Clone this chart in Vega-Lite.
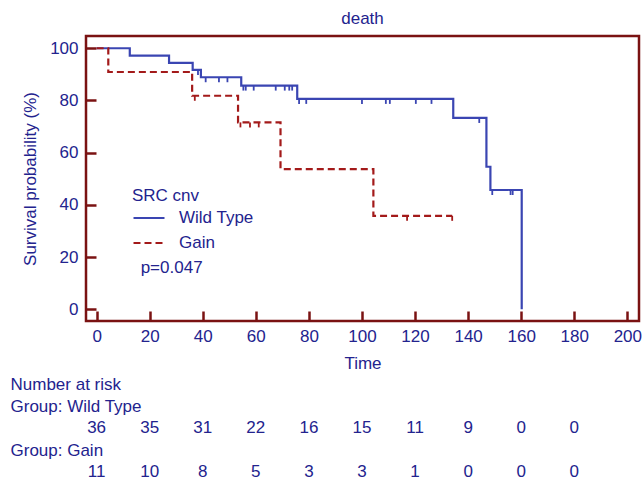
{
  "$schema": "https://vega.github.io/schema/vega-lite/v6.json",
  "padding": {"left": 10, "top": 8, "right": 2, "bottom": 0},
  "bounds": "flush",
  "spacing": 52,
  "config": {
    "font": "Liberation Sans",
    "view": {"stroke": "#7A1212", "strokeWidth": 2.5},
    "axis": {"grid": false, "domain": false, "labelFont": "Liberation Sans", "titleFont": "Liberation Sans", "labelFontSize": 17, "titleFontSize": 17, "labelColor": "#23238E", "titleColor": "#23238E", "titleFontWeight": "normal", "tickColor": "#7A1212", "tickWidth": 2.5}
  },
  "datasets": {
    "km": [
      {"group": "Wild Type", "time": 0, "surv": 100, "censored": 0},
      {"group": "Wild Type", "time": 12.5, "surv": 97.2, "censored": 0},
      {"group": "Wild Type", "time": 27.3, "surv": 94.4, "censored": 0},
      {"group": "Wild Type", "time": 36.2, "surv": 91.7, "censored": 0},
      {"group": "Wild Type", "time": 38.2, "surv": 91.7, "censored": 1},
      {"group": "Wild Type", "time": 39.3, "surv": 88.9, "censored": 0},
      {"group": "Wild Type", "time": 41.1, "surv": 88.9, "censored": 1},
      {"group": "Wild Type", "time": 46.1, "surv": 88.9, "censored": 1},
      {"group": "Wild Type", "time": 49.3, "surv": 88.9, "censored": 1},
      {"group": "Wild Type", "time": 54.5, "surv": 85.7, "censored": 0},
      {"group": "Wild Type", "time": 55.3, "surv": 85.7, "censored": 1},
      {"group": "Wild Type", "time": 56.2, "surv": 85.7, "censored": 1},
      {"group": "Wild Type", "time": 59.2, "surv": 85.7, "censored": 1},
      {"group": "Wild Type", "time": 67.5, "surv": 85.7, "censored": 1},
      {"group": "Wild Type", "time": 70.9, "surv": 85.7, "censored": 1},
      {"group": "Wild Type", "time": 72.6, "surv": 85.7, "censored": 1},
      {"group": "Wild Type", "time": 73.7, "surv": 85.7, "censored": 1},
      {"group": "Wild Type", "time": 75.6, "surv": 80.6, "censored": 0},
      {"group": "Wild Type", "time": 76.3, "surv": 80.6, "censored": 1},
      {"group": "Wild Type", "time": 79.0, "surv": 80.6, "censored": 1},
      {"group": "Wild Type", "time": 100.0, "surv": 80.6, "censored": 1},
      {"group": "Wild Type", "time": 109.0, "surv": 80.6, "censored": 1},
      {"group": "Wild Type", "time": 110.5, "surv": 80.6, "censored": 1},
      {"group": "Wild Type", "time": 120.3, "surv": 80.6, "censored": 1},
      {"group": "Wild Type", "time": 126.2, "surv": 80.6, "censored": 1},
      {"group": "Wild Type", "time": 134.4, "surv": 73.3, "censored": 0},
      {"group": "Wild Type", "time": 144.2, "surv": 73.3, "censored": 1},
      {"group": "Wild Type", "time": 146.9, "surv": 54.6, "censored": 0},
      {"group": "Wild Type", "time": 148.4, "surv": 45.7, "censored": 0},
      {"group": "Wild Type", "time": 149.1, "surv": 45.7, "censored": 1},
      {"group": "Wild Type", "time": 156.0, "surv": 45.7, "censored": 1},
      {"group": "Wild Type", "time": 156.8, "surv": 45.7, "censored": 1},
      {"group": "Wild Type", "time": 160.2, "surv": 0, "censored": 0},
      {"group": "Gain", "time": 0, "surv": 100, "censored": 0},
      {"group": "Gain", "time": 4.4, "surv": 90.9, "censored": 0},
      {"group": "Gain", "time": 36.0, "surv": 81.8, "censored": 0},
      {"group": "Gain", "time": 37.0, "surv": 81.8, "censored": 1},
      {"group": "Gain", "time": 53.3, "surv": 71.6, "censored": 0},
      {"group": "Gain", "time": 54.2, "surv": 71.6, "censored": 1},
      {"group": "Gain", "time": 57.8, "surv": 71.6, "censored": 1},
      {"group": "Gain", "time": 61.1, "surv": 71.6, "censored": 1},
      {"group": "Gain", "time": 69.3, "surv": 53.7, "censored": 0},
      {"group": "Gain", "time": 104.3, "surv": 35.8, "censored": 0},
      {"group": "Gain", "time": 117.0, "surv": 35.8, "censored": 1},
      {"group": "Gain", "time": 134.0, "surv": 35.8, "censored": 1}
    ],
    "risk": [
      {"row": "Wild Type", "time": 0, "n": 36},
      {"row": "Wild Type", "time": 20, "n": 35},
      {"row": "Wild Type", "time": 40, "n": 31},
      {"row": "Wild Type", "time": 60, "n": 22},
      {"row": "Wild Type", "time": 80, "n": 16},
      {"row": "Wild Type", "time": 100, "n": 15},
      {"row": "Wild Type", "time": 120, "n": 11},
      {"row": "Wild Type", "time": 140, "n": 9},
      {"row": "Wild Type", "time": 160, "n": 0},
      {"row": "Wild Type", "time": 180, "n": 0},
      {"row": "Gain", "time": 0, "n": 11},
      {"row": "Gain", "time": 20, "n": 10},
      {"row": "Gain", "time": 40, "n": 8},
      {"row": "Gain", "time": 60, "n": 5},
      {"row": "Gain", "time": 80, "n": 3},
      {"row": "Gain", "time": 100, "n": 3},
      {"row": "Gain", "time": 120, "n": 1},
      {"row": "Gain", "time": 140, "n": 0},
      {"row": "Gain", "time": 160, "n": 0},
      {"row": "Gain", "time": 180, "n": 0}
    ]
  },
  "vconcat": [
    {
      "title": {"text": "death", "fontSize": 17, "fontWeight": "normal", "color": "#23238E", "font": "Liberation Sans", "offset": 8},
      "width": 553,
      "height": 285,
      "layer": [
        {
          "data": {"name": "km"},
          "mark": {"type": "line", "interpolate": "step-after", "strokeWidth": 2.2},
          "encoding": {
            "x": {"field": "time", "type": "quantitative", "scale": {"domain": [-4, 204.4], "nice": false, "zero": false},
              "axis": {"values": [0, 20, 40, 60, 80, 100, 120, 140, 160, 180, 200], "title": "Time", "tickSize": -10, "labelPadding": 17, "titlePadding": 11}},
            "y": {"field": "surv", "type": "quantitative", "scale": {"domain": [-4.5, 104.7], "nice": false, "zero": false},
              "axis": {"values": [0, 10, 20, 30, 40, 50, 60, 70, 80, 90, 100], "title": "Survival probability (%)", "labelExpr": "datum.value % 20 === 0 ? datum.label : ''",
                "tickSize": {"condition": {"test": "datum.value % 20 === 0", "value": -10}, "value": -5}, "labelPadding": 18, "titlePadding": 10}},
            "color": {"field": "group", "type": "nominal", "scale": {"domain": ["Wild Type", "Gain"], "range": ["#3A45B2", "#A31A1A"]},
              "legend": {"orient": "none", "legendX": 46, "legendY": 152, "title": "SRC cnv", "titleFontSize": 17, "titleFontWeight": "normal", "titleColor": "#23238E", "titleFont": "Liberation Sans", "labelFont": "Liberation Sans", "labelFontSize": 17, "labelColor": "#23238E", "symbolType": "stroke", "symbolStrokeWidth": 2.2, "symbolSize": 961, "rowPadding": -2, "labelOffset": 13, "titlePadding": -4}},
            "strokeDash": {"field": "group", "type": "nominal", "scale": {"domain": ["Wild Type", "Gain"], "range": [[1, 0], [7, 4]]}}
          }
        },
        {
          "data": {"name": "km"},
          "transform": [{"filter": "datum.censored === 1"}],
          "mark": {"type": "point", "shape": "M0,0L0,1", "size": 100, "filled": false, "strokeWidth": 1.8, "opacity": 1},
          "encoding": {
            "x": {"field": "time", "type": "quantitative"},
            "y": {"field": "surv", "type": "quantitative"},
            "stroke": {"field": "group", "type": "nominal", "scale": {"domain": ["Wild Type", "Gain"], "range": ["#3A45B2", "#A31A1A"]}, "legend": null}
          }
        },
        {
          "data": {"values": [{"label": "p=0.047"}]},
          "mark": {"type": "text", "align": "left", "baseline": "middle", "fontSize": 17, "color": "#23238E", "font": "Liberation Sans"},
          "encoding": {"x": {"datum": 16.6}, "y": {"datum": 15.8}, "text": {"field": "label"}}
        }
      ]
    },
    {
      "width": 553,
      "height": 110,
      "view": {"stroke": null},
      "data": {"name": "risk"},
      "mark": {"type": "text", "fontSize": 17, "color": "#23238E", "font": "Liberation Sans", "baseline": "middle"},
      "encoding": {
        "x": {"field": "time", "type": "quantitative", "scale": {"domain": [-4, 204.4], "nice": false, "zero": false}, "axis": null},
        "y": {"field": "row", "type": "nominal", "scale": {"domain": ["Number at risk", "Group: Wild Type", "Wild Type", "Group: Gain", "Gain"], "paddingInner": 0, "paddingOuter": 0},
          "axis": {"title": null, "ticks": false, "domain": false, "labelAlign": "left", "labelBaseline": "middle", "labelPadding": 76, "labelExpr": "datum.value === 'Wild Type' || datum.value === 'Gain' ? '' : datum.value"}},
        "text": {"field": "n", "type": "quantitative"}
      }
    }
  ]
}
